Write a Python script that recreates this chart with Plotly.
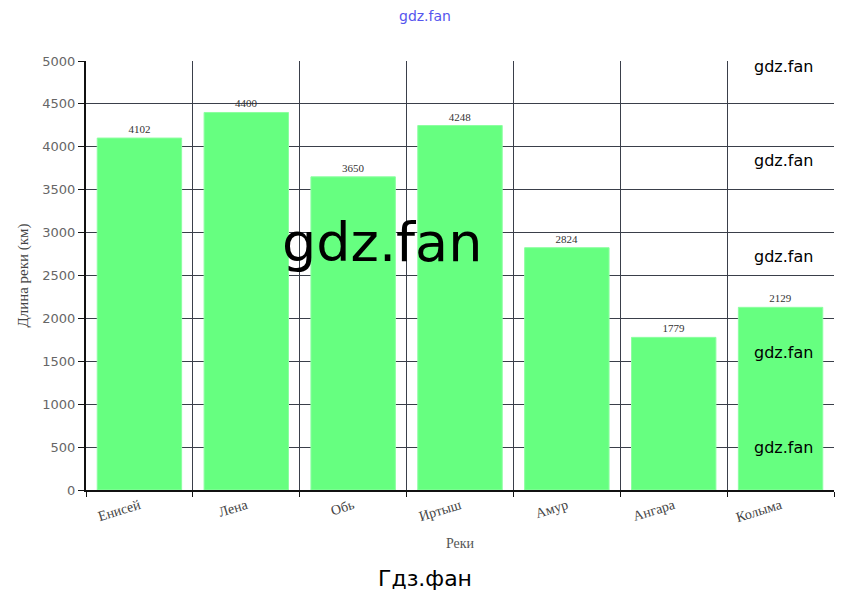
import plotly.graph_objects as go

rivers = ["Енисей", "Лена", "Обь", "Иртыш", "Амур", "Ангара", "Колыма"]
lengths = [4102, 4400, 3650, 4248, 2824, 1779, 2129]
y_ticks = [0, 500, 1000, 1500, 2000, 2500, 3000, 3500, 4000, 4500, 5000]

OFF = 8  # page body margin
W, H = 840, 591
L, R, T, B = 86 - OFF, 14, 61 - OFF, 109

fig = go.Figure()
fig.add_trace(go.Bar(
    x=rivers, y=lengths,
    marker=dict(color="#66ff80", line=dict(color="#8cffa0", width=1)),
    width=0.79,
    text=[str(v) for v in lengths],
    textposition="outside",
    textfont=dict(family="Liberation Serif", size=11, color="#333333"),
    cliponaxis=False,
))

fig.update_layout(
    width=W, height=H,
    margin=dict(l=L, r=R, t=T, b=B),
    paper_bgcolor="white", plot_bgcolor="white",
    showlegend=False,
    xaxis=dict(
        type="category", tickson="boundaries",
        showgrid=True, gridcolor="#3a3f4a", gridwidth=1,
        showline=True, linecolor="#111111", linewidth=2,
        ticks="outside", ticklen=5, tickcolor="#111111",
        tickangle=-17,
        tickfont=dict(family="Liberation Serif", size=14, color="#444444"),
        title=dict(text="Реки", font=dict(family="Liberation Serif", size=14, color="#555555"), standoff=14),
    ),
    yaxis=dict(
        range=[0, 5000], tickvals=y_ticks,
        showgrid=True, gridcolor="#3a3f4a", gridwidth=1,
        showline=True, linecolor="#111111", linewidth=2,
        ticks="outside", ticklen=6, tickcolor="#111111",
        tickfont=dict(family="DejaVu Sans", size=13, color="#666666"),
        title=dict(text="Длина реки (км)", font=dict(family="Liberation Serif", size=15, color="#444444"), standoff=10),
        zeroline=False,
    ),
)

# watermarks (reference pixel positions)
ann = [
    dict(text="gdz.fan", x=425, y=16, size=14, color="#5555ee"),
    dict(text="gdz.fan", x=382, y=243, size=54, color="#000000"),
    dict(text="Гдз.фан", x=425, y=578, size=22, color="#000000"),
]
for yy in [66, 160, 256, 352, 447]:
    ann.append(dict(text="gdz.fan", x=783, y=yy, size=16, color="#000000"))
pw, ph = W - L - R, H - T - B
for a in ann:
    fig.add_annotation(
        text=a["text"], xref="paper", yref="paper",
        x=(a["x"] - OFF - L) / pw, y=(H - B - (a["y"] - OFF)) / ph,
        xanchor="center", yanchor="middle", showarrow=False,
        font=dict(family="DejaVu Sans", size=a["size"], color=a["color"]),
    )

fig.write_html("out.html")
